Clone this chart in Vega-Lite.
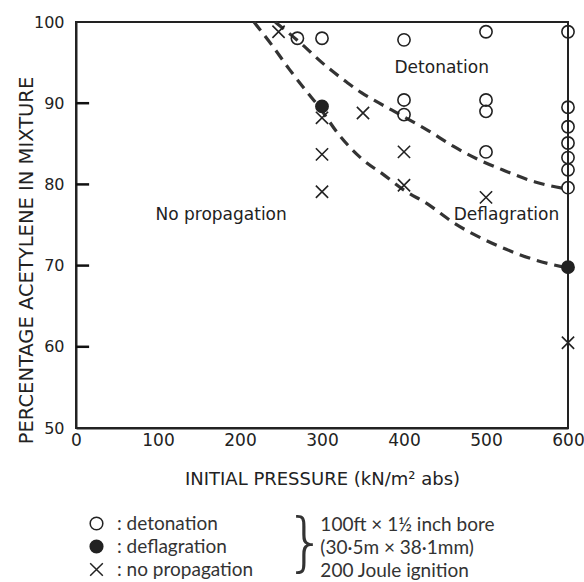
{
  "$schema": "https://vega.github.io/schema/vega-lite/v6.json",
  "width": 492,
  "height": 406,
  "autosize": {"type": "none"},
  "padding": {"left": 76, "top": 22, "right": 16, "bottom": 154},
  "background": "white",
  "config": {
    "view": {"stroke": "#222", "strokeWidth": 2},
    "axis": {
      "domainColor": "#222", "domainWidth": 2, "grid": false,
      "labelColor": "#222", "titleColor": "#222",
      "labelFont": "DejaVu Sans", "titleFont": "DejaVu Sans",
      "titleFontWeight": "normal"
    }
  },
  "datasets": {
    "curves": [
      {"curve": "upper", "pressure": 243, "acetylene": 100},
      {"curve": "upper", "pressure": 260, "acetylene": 98.6},
      {"curve": "upper", "pressure": 275, "acetylene": 97.3},
      {"curve": "upper", "pressure": 300, "acetylene": 95},
      {"curve": "upper", "pressure": 330, "acetylene": 92.6},
      {"curve": "upper", "pressure": 348, "acetylene": 91.3},
      {"curve": "upper", "pressure": 370, "acetylene": 90},
      {"curve": "upper", "pressure": 395, "acetylene": 88.6},
      {"curve": "upper", "pressure": 430, "acetylene": 86.6},
      {"curve": "upper", "pressure": 460, "acetylene": 84.7},
      {"curve": "upper", "pressure": 490, "acetylene": 83.1},
      {"curve": "upper", "pressure": 520, "acetylene": 81.8},
      {"curve": "upper", "pressure": 560, "acetylene": 80.3},
      {"curve": "upper", "pressure": 600, "acetylene": 79.4},
      {"curve": "lower", "pressure": 217, "acetylene": 100},
      {"curve": "lower", "pressure": 240, "acetylene": 97},
      {"curve": "lower", "pressure": 260, "acetylene": 94.2},
      {"curve": "lower", "pressure": 280, "acetylene": 91.6},
      {"curve": "lower", "pressure": 296, "acetylene": 89.6},
      {"curve": "lower", "pressure": 320, "acetylene": 86.2},
      {"curve": "lower", "pressure": 348, "acetylene": 83.2},
      {"curve": "lower", "pressure": 375, "acetylene": 81.2},
      {"curve": "lower", "pressure": 400, "acetylene": 79.3},
      {"curve": "lower", "pressure": 430, "acetylene": 77.5},
      {"curve": "lower", "pressure": 460, "acetylene": 75.3},
      {"curve": "lower", "pressure": 490, "acetylene": 73.6},
      {"curve": "lower", "pressure": 520, "acetylene": 72.2},
      {"curve": "lower", "pressure": 560, "acetylene": 70.7},
      {"curve": "lower", "pressure": 600, "acetylene": 69.7}
    ],
    "points": [
      {"type": "detonation", "pressure": 270, "acetylene": 98},
      {"type": "detonation", "pressure": 300, "acetylene": 98},
      {"type": "detonation", "pressure": 400, "acetylene": 97.8},
      {"type": "detonation", "pressure": 500, "acetylene": 98.8},
      {"type": "detonation", "pressure": 600, "acetylene": 98.8},
      {"type": "detonation", "pressure": 400, "acetylene": 90.4},
      {"type": "detonation", "pressure": 400, "acetylene": 88.6},
      {"type": "detonation", "pressure": 500, "acetylene": 90.4},
      {"type": "detonation", "pressure": 500, "acetylene": 89},
      {"type": "detonation", "pressure": 500, "acetylene": 84},
      {"type": "detonation", "pressure": 600, "acetylene": 89.5},
      {"type": "detonation", "pressure": 600, "acetylene": 87.1},
      {"type": "detonation", "pressure": 600, "acetylene": 85.1},
      {"type": "detonation", "pressure": 600, "acetylene": 83.3},
      {"type": "detonation", "pressure": 600, "acetylene": 81.8},
      {"type": "detonation", "pressure": 600, "acetylene": 79.6},
      {"type": "deflagration", "pressure": 300, "acetylene": 89.6},
      {"type": "deflagration", "pressure": 600, "acetylene": 69.8},
      {"type": "no propagation", "pressure": 247, "acetylene": 98.8},
      {"type": "no propagation", "pressure": 300, "acetylene": 88.2},
      {"type": "no propagation", "pressure": 300, "acetylene": 83.7},
      {"type": "no propagation", "pressure": 300, "acetylene": 79.1},
      {"type": "no propagation", "pressure": 350, "acetylene": 88.8},
      {"type": "no propagation", "pressure": 400, "acetylene": 84},
      {"type": "no propagation", "pressure": 400, "acetylene": 79.9},
      {"type": "no propagation", "pressure": 500, "acetylene": 78.4},
      {"type": "no propagation", "pressure": 600, "acetylene": 60.5}
    ],
    "yticks": [
      {"acetylene": 60}, {"acetylene": 70}, {"acetylene": 80}, {"acetylene": 90}
    ],
    "regions": [
      {"label": "Detonation", "pressure": 446, "acetylene": 94.3},
      {"label": "Deflagration", "pressure": 525, "acetylene": 76.2},
      {"label": "No propagation", "pressure": 177, "acetylene": 76.2}
    ],
    "notes": [
      {"text": "100ft × 1½ inch bore", "pressure": 298, "acetylene": 38.0},
      {"text": "(30·5m × 38·1mm)", "pressure": 298, "acetylene": 35.2},
      {"text": "200 Joule ignition", "pressure": 298, "acetylene": 32.4}
    ],
    "brace": [
      {"text": "}", "pressure": 280, "acetylene": 35.6}
    ]
  },
  "layer": [
    {
      "data": {"name": "curves"},
      "mark": {"type": "line", "interpolate": "monotone", "strokeDash": [11, 7], "strokeWidth": 3.2, "color": "#333"},
      "encoding": {
        "x": {"field": "pressure", "type": "quantitative", "title": "INITIAL PRESSURE (kN/m² abs)",
          "scale": {"domain": [0, 600], "nice": false, "zero": false},
          "axis": {"values": [0, 100, 200, 300, 400, 500, 600], "ticks": false, "labelPadding": 4, "labelFontSize": 17, "labelFlush": false, "titleFontSize": 18, "titleY": 42}},
        "y": {"field": "acetylene", "type": "quantitative", "title": "PERCENTAGE ACETYLENE IN MIXTURE",
          "scale": {"domain": [50, 100], "nice": false, "zero": false},
          "axis": {"values": [50, 60, 70, 80, 90, 100], "ticks": false, "labelPadding": 12, "labelFontSize": 16, "titleFontSize": 19.5, "titleX": -40, "titleY": 238}},
        "detail": {"field": "curve"}
      }
    },
    {
      "data": {"name": "points"},
      "mark": {"type": "point", "filled": false, "strokeWidth": 1.6, "size": 150, "opacity": 1},
      "encoding": {
        "x": {"field": "pressure", "type": "quantitative", "title": "INITIAL PRESSURE (kN/m² abs)"},
        "y": {"field": "acetylene", "type": "quantitative", "title": "PERCENTAGE ACETYLENE IN MIXTURE"},
        "shape": {"field": "type", "type": "nominal",
          "scale": {"domain": ["detonation", "deflagration", "no propagation"], "range": ["circle", "circle", "M-1,-1L1,1M1,-1L-1,1"]},
          "legend": {"title": null, "orient": "none", "legendX": 11, "legendY": 492, "direction": "vertical", "labelExpr": "': ' + datum.label", "labelFont": "Lato", "labelFontSize": 19, "labelColor": "#333", "labelOffset": 11, "rowPadding": 3, "padding": 0, "symbolSize": 160,
            "encode": {"symbols": {"update": {"stroke": {"value": "#333"}, "strokeWidth": {"value": 1.4}}}}}},
        "fill": {"field": "type", "type": "nominal",
          "scale": {"domain": ["detonation", "deflagration", "no propagation"], "range": ["transparent", "#222", "transparent"]},
          "legend": {"title": null, "orient": "none", "legendX": 11, "legendY": 492, "direction": "vertical", "labelExpr": "': ' + datum.label", "labelFont": "Lato", "labelFontSize": 19, "labelColor": "#333", "labelOffset": 11, "rowPadding": 3, "padding": 0, "symbolSize": 160,
            "encode": {"symbols": {"update": {"stroke": {"value": "#333"}, "strokeWidth": {"value": 1.4}}}}}},
        "stroke": {"value": "#222"}
      }
    },
    {
      "data": {"name": "regions"},
      "mark": {"type": "text", "font": "DejaVu Sans", "fontSize": 17, "color": "#222", "align": "center", "baseline": "middle"},
      "encoding": {
        "x": {"field": "pressure", "type": "quantitative", "title": "INITIAL PRESSURE (kN/m² abs)"},
        "y": {"field": "acetylene", "type": "quantitative", "title": "PERCENTAGE ACETYLENE IN MIXTURE"},
        "text": {"field": "label"}
      }
    },
    {
      "data": {"name": "notes"},
      "mark": {"type": "text", "font": "Lato", "fontSize": 19, "color": "#333", "align": "left", "baseline": "middle"},
      "encoding": {
        "x": {"field": "pressure", "type": "quantitative", "title": "INITIAL PRESSURE (kN/m² abs)"},
        "y": {"field": "acetylene", "type": "quantitative", "title": "PERCENTAGE ACETYLENE IN MIXTURE"},
        "text": {"field": "text"}
      }
    },
    {
      "data": {"name": "brace"},
      "mark": {"type": "text", "font": "DejaVu Sans", "fontSize": 64, "fontWeight": 200, "color": "#333", "align": "center", "baseline": "middle"},
      "encoding": {
        "x": {"field": "pressure", "type": "quantitative", "title": "INITIAL PRESSURE (kN/m² abs)"},
        "y": {"field": "acetylene", "type": "quantitative", "title": "PERCENTAGE ACETYLENE IN MIXTURE"},
        "text": {"field": "text"}
      }
    },
    {
      "data": {"name": "yticks"},
      "mark": {"type": "rule", "color": "#111", "strokeWidth": 2.5},
      "encoding": {
        "x": {"datum": 0, "type": "quantitative", "title": "INITIAL PRESSURE (kN/m² abs)"},
        "x2": {"datum": 16},
        "y": {"field": "acetylene", "type": "quantitative", "title": "PERCENTAGE ACETYLENE IN MIXTURE"}
      }
    }
  ]
}
